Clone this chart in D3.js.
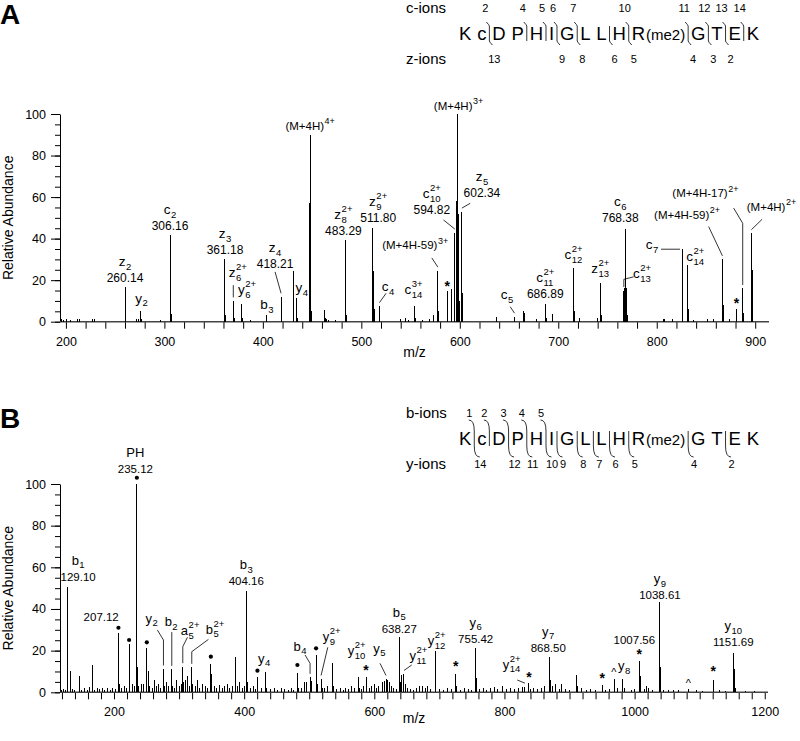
<!DOCTYPE html>
<html>
<head>
<meta charset="utf-8">
<script src="https://cdn.jsdelivr.net/npm/d3@7"></script>
<style>
  body { margin: 0; background: #fff; }
  svg text { font-family: "Liberation Sans", Arial, Helvetica, sans-serif; fill: #000; }
</style>
</head>
<body>
<svg id="chart" width="800" height="741"></svg>
<script>
// ---- peptide ----
const residues = ['K', 'c', 'D', 'P', 'H', 'I', 'G', 'L', 'L', 'H', 'R', 'G', 'T', 'E', 'K'];
const mods = { 10: '(me2)' };
const cIons = [2, 4, 5, 6, 7, 10, 11, 12, 13, 14];
const zIons = [13, 9, 8, 6, 5, 4, 3, 2];
const bIons = [1, 2, 3, 4, 5];
const yIons = [14, 12, 11, 10, 9, 8, 7, 6, 5, 4, 2];

// ---- panel A spectrum: [m/z, relative abundance] ----
const peaksA = [
  [195.6, 1.5], [198, 1], [200.6, 1.5], [205, 1], [211.8, 1.5], [214, 1.2], [226.9, 1.5], [228.6, 1.5],
  [260.1, 16.9], [261, 1], [271.8, 1.5], [273.5, 1.5], [276.2, 5.1], [277, 1.5], [296.5, 1],
  [306.2, 41.8], [306.9, 3.5], [360.9, 30.2], [361.7, 3], [370, 10], [370.8, 2], [378.2, 8.4], [379, 2], [387, 1],
  [404, 3], [418.5, 12], [431.4, 24.4], [434.4, 11.6], [435.2, 2],
  [447.3, 43], [447.8, 57], [448.3, 90], [448.8, 21], [449.4, 5],
  [462.5, 5.6], [463.3, 2], [465, 1.2], [467, 1], [473.4, 1],
  [483.5, 39.4], [484.1, 16.9], [484.8, 3],
  [511.7, 45.3], [512.4, 24.4], [513.1, 6], [518.4, 7.5],
  [540, 1.2], [545, 2], [548, 1], [554, 7.5], [554.8, 2],
  [562.5, 1], [569.2, 1.5], [573.3, 3], [577.7, 24.6], [578.5, 5],
  [587.2, 15], [592, 15.6], [595, 42.9], [596.2, 58], [597.4, 100], [598.5, 52], [599.5, 10], [602.1, 53], [603, 14],
  [637, 2.4], [655.6, 2.4], [664.7, 5], [665.6, 4], [678.3, 1.5], [687.1, 8.4], [688, 2], [694.2, 3.7],
  [715.6, 25.7], [716.4, 5], [721.4, 2], [740.3, 2], [743.3, 18.8], [744.1, 3],
  [766.6, 15], [767.5, 16], [768.4, 44.5], [769.2, 16], [770, 3],
  [806.5, 1.5], [807.6, 1.5], [816.5, 1.5], [825.7, 34.9], [826.5, 14], [831.1, 27.3], [831.9, 6], [837.5, 1],
  [851.7, 1.5], [857.8, 1.5], [866.7, 30], [867.5, 8], [874.1, 1.5], [880.6, 5.9], [887.3, 16], [888.1, 4],
  [896.1, 42.6], [896.8, 25], [897.6, 5]
];

// label anchor = [m/z, abundance] of bottom text line; lead = leader start/corner points; pk = peak it points to
const labelsA = [
  { t: 'z', sub: '2', num: '260.14', x: 260, y: 19.1 },
  { t: 'y', sub: '2', x: 276.9, y: 9.1 },
  { t: 'c', sub: '2', num: '306.16', x: 305.7, y: 44 },
  { t: 'z', sub: '3', num: '361.18', x: 361.6, y: 32.6 },
  { t: 'z', sub: '6', sup: '2+', x: 374.5, y: 21.3, pk: 370, lead: [[370, 17.6]] },
  { t: 'y', sub: '6', sup: '2+', x: 384, y: 13.4 },
  { t: 'b', sub: '3', x: 404, y: 6 },
  { t: 'z', sub: '4', num: '418.21', x: 412.4, y: 25.9, pk: 418.5, lead: [[412.4, 24]] },
  { t: 'y', sub: '4', x: 439.5, y: 14.3 },
  { t: '(M+4H)', sup: '4+', x: 448, y: 92.4 },
  { t: 'z', sub: '8', sup: '2+', num: '483.29', x: 481.8, y: 41.8 },
  { t: 'z', sub: '9', sup: '2+', num: '511.80', x: 517.1, y: 48 },
  { t: 'c', sub: '4', x: 527.2, y: 14.8, pk: 518.4, lead: [[525.2, 13.7]] },
  { t: '(M+4H-59)', sup: '3+', x: 554.7, y: 35, pk: 577.7, lead: [[571.6, 30.7]] },
  { t: 'c', sub: '14', sup: '3+', x: 553, y: 13.1 },
  { t: 'c', sub: '10', sup: '2+', num: '594.82', x: 571.6, y: 51.8, pk: 595, lead: [[583.4, 49]] },
  { t: '(M+4H)', sup: '3+', x: 598.7, y: 102 },
  { t: 'z', sub: '5', num: '602.34', x: 622.5, y: 59.8, pk: 602.1, lead: [[610.6, 57]] },
  { t: 'c', sub: '5', x: 647.9, y: 10.7, pk: 655.6, lead: [[651.2, 7.2]] },
  { t: 'c', sub: '11', sup: '2+', num: '686.89', x: 686.8, y: 11.3 },
  { t: 'c', sub: '12', sup: '2+', x: 715.6, y: 30 },
  { t: 'z', sub: '13', sup: '2+', x: 742.7, y: 23.5 },
  { t: 'c', sub: '13', sup: '2+', x: 785, y: 21, pk: 766.6, lead: [[776.5, 21.6], [766.6, 20.4]] },
  { t: 'c', sub: '6', num: '768.38', x: 763, y: 47.8 },
  { t: 'c', sub: '7', x: 795.2, y: 34.8, pk: 825.7, lead: [[804.3, 34.9]] },
  { t: 'c', sub: '14', sup: '2+', x: 839.2, y: 29.2 },
  { t: '(M+4H-59)', sup: '2+', x: 830.8, y: 49.5, pk: 866.7, lead: [[852.7, 45.8]] },
  { t: '(M+4H-17)', sup: '2+', x: 849.4, y: 60, pk: 887.3, lead: [[878.1, 54.7], [887.3, 47.4]] },
  { t: '(M+4H)', sup: '2+', x: 916.5, y: 53.5, pk: 896.1, lead: [[907, 49.3]] }
];
const starsA = [[587.2, 18.5], [880.9, 10.5]];

// ---- panel B spectrum ----
const peaksB = [
  [119, 1], [122, 1.5], [125, 1], [129.1, 50.7], [132.5, 10.4], [136, 1.5], [140, 1], [146.5, 8],
  [150, 1], [155, 2], [160, 1], [163, 2.5], [166.4, 13.3], [170, 1], [174, 2], [178, 1.5], [182, 2],
  [186, 1], [190, 2], [194, 1], [198, 2], [202, 1.5], [206.9, 28.3], [208, 4], [212, 2], [216, 3], [219, 2],
  [223.2, 23.2], [224.5, 4], [228, 4], [231, 3], [235.12, 100], [236.6, 12], [238, 3], [242, 4], [245, 4.2],
  [250.4, 21.3], [253, 10.4], [255, 3], [259, 2], [262, 6], [265, 3], [269, 4], [272, 2], [276, 11.2], [277.5, 3],
  [281, 5], [284, 3], [288.8, 11], [290, 3], [293, 2], [296, 6], [300, 3], [303, 4], [305.7, 12.3], [307, 5],
  [310, 6], [313, 8], [316, 3], [319.5, 12], [321, 4], [325, 3], [328, 6], [332, 2], [336, 4], [340, 3], [343, 2],
  [348.7, 13.6], [350, 9], [354, 3], [358, 2], [362, 3.5], [366, 2], [370, 3], [374, 4], [378, 2], [382, 3],
  [386, 17.1], [390, 3], [393, 5], [397, 2], [400, 3], [404.16, 48.8], [405.5, 5], [410, 2], [414, 3], [417, 1.5],
  [420.4, 7.2], [426, 2], [433.2, 9.6], [434.5, 2], [440, 1.5], [446, 2], [452, 1], [458, 2], [462, 1.5],
  [468, 1], [472, 2], [476, 1], [481.8, 9.3], [483, 2], [488, 2], [492, 5], [496, 5], [501.3, 7.2], [504, 5.5],
  [510.5, 18], [512, 4], [518.2, 6.4], [520, 2], [524, 2], [528, 3], [535.5, 14], [537, 3], [542, 1.5], [548, 2],
  [552, 1], [556, 2], [560, 1.5], [565, 3], [569, 2], [575.5, 7.2], [577, 2], [580, 1.5], [583, 3], [587.3, 7.5],
  [592, 2], [596, 3], [600, 4], [603, 2], [607, 3], [612, 5], [615, 5.5], [618, 6.4], [620, 6], [623, 5],
  [626, 3], [630, 2], [634, 1.5], [638.27, 26.4], [639.5, 5], [642, 8.5], [645.6, 8.8], [648, 4], [651, 2],
  [656, 1.5], [660, 1], [665, 2], [670, 3], [674, 3], [678, 2], [682, 3], [686, 1.5], [693.3, 20], [694.5, 12],
  [700, 1.5], [706, 1], [712, 2], [718, 1.5], [725, 8.8], [726.5, 3], [732, 1], [738, 2], [744, 1.5], [750, 1],
  [755.7, 21.3], [757, 7], [762, 1.5], [768, 2], [772, 1], [778, 2], [784, 2.5], [790, 1.5], [797, 3],
  [803, 1.5], [810, 2], [816, 1.5], [822, 2], [827, 2.5], [831.5, 2.7], [837.7, 4.3], [840, 1.5], [845, 2],
  [851, 1.5], [857, 2], [862, 3], [868.9, 17.1], [870, 6], [874, 3], [878, 4], [884, 1.5], [888, 4], [894, 1.5],
  [900, 1], [910.9, 8.3], [912.5, 3], [918, 2], [926, 1], [932, 1.5], [940, 1], [950.3, 3.5], [956, 1],
  [962, 1.5], [968.7, 6.4], [974, 2], [981.5, 6.4], [985, 2], [995, 1], [1000, 1.5], [1007.1, 15.2], [1009, 8],
  [1015, 1.5], [1019, 3], [1022, 2], [1028, 1], [1037.5, 5], [1038.9, 43.2], [1040.3, 12], [1045, 1], [1052, 1],
  [1060, 1], [1068, 1], [1082.4, 1.6], [1095, 1], [1105, 0.8], [1120.8, 6], [1122, 2], [1130, 1], [1140, 0.8],
  [1151.5, 18.7], [1153, 11], [1155, 2], [1170, 0.8], [1185, 0.5]
];

const labelsB = [
  { t: 'b', sub: '1', num: '129.10', x: 144.9, y: 53.6 },
  { t: 'PH', num: '235.12', x: 232.8, y: 105.5 },
  { num: '207.12', x: 180.3, y: 34.2 },
  { t: 'y', sub: '2', x: 258, y: 33.3, pk: 276, lead: [[266.7, 29.9], [276, 25.1]] },
  { t: 'b', sub: '2', x: 287.8, y: 31.6, pk: 288.8, lead: [[288.8, 28.9]] },
  { t: 'a', sub: '5', sup: '2+', x: 317, y: 27.5, pk: 305.7, lead: [[312.8, 26.4], [305.7, 21.9]] },
  { t: 'b', sub: '5', sup: '2+', x: 355.4, y: 28.2, pk: 319.5, lead: [[345.1, 25.4], [319.5, 19.5]] },
  { t: 'b', sub: '3', num: '404.16', x: 403.2, y: 51.4 },
  { t: 'y', sub: '4', x: 430.7, y: 14.1 },
  { t: 'b', sub: '4', x: 485.9, y: 20, pk: 501.3, lead: [[493.6, 17.9], [501.3, 13.9]] },
  { t: 'y', sub: '9', sup: '2+', x: 534.6, y: 24.4, pk: 518.2, lead: [[528.5, 21.6]] },
  { t: 'y', sub: '10', sup: '2+', x: 573, y: 17.9 },
  { t: 'y', sub: '5', x: 607.7, y: 18.9, pk: 618, lead: [[608.8, 13.9]] },
  { t: 'b', sub: '5', num: '638.27', x: 638.4, y: 28.7 },
  { t: 'y', sub: '11', sup: '2+', x: 667.7, y: 15.5, pk: 645.6, lead: [[657.5, 13.1]] },
  { t: 'y', sub: '12', sup: '2+', x: 695.9, y: 22.7 },
  { t: 'y', sub: '6', num: '755.42', x: 755.8, y: 23.9 },
  { t: 'y', sub: '14', sup: '2+', x: 811.1, y: 11.2, pk: 831.5, lead: [[819.7, 5.9]] },
  { t: 'y', sub: '7', num: '868.50', x: 867.3, y: 19.5 },
  { t: 'y', sub: '8', x: 984.1, y: 10.5 },
  { num: '1007.56', x: 999.6, y: 23 },
  { t: 'y', sub: '9', num: '1038.61', x: 1039, y: 44.6 },
  { t: 'y', sub: '10', num: '1151.69', x: 1151.6, y: 22.2 }
];
const dotsB = [[235.12, 103], [206.8, 31], [223.2, 25.1], [250.4, 24], [348.8, 17.1], [420.4, 10.4], [481.8, 13.1], [510.5, 21.1]];
const starsB = [[587.3, 12], [725.1, 13.9], [837.7, 8.8], [950.3, 8.3], [1007.3, 20], [1120.8, 11.5]];
const caretsB = [[968, 10.7], [1082.4, 5.6]];

const svg = d3.select('#chart');

// ion name with stacked sub/superscript, centred on cx
function drawIon(g, cx, by, base, sub, sup, fs, fsSmall, supDy) {
  const grp = g.append('g');
  let w = 0;
  if (base) {
    const t = grp.append('text').attr('font-size', fs).text(base);
    w = t.node().getComputedTextLength();
  }
  let ws = 0;
  if (sub) {
    const t = grp.append('text').attr('x', w + 0.5).attr('y', fs * 0.27).attr('font-size', fsSmall).text(sub);
    ws = t.node().getComputedTextLength();
  }
  if (sup) {
    const t = grp.append('text').attr('x', w + 0.5).attr('y', -supDy).attr('font-size', fsSmall).text(sup);
    ws = Math.max(ws, t.node().getComputedTextLength());
  }
  const total = w + (ws ? ws + 0.5 : 0);
  grp.attr('transform', `translate(${cx - total / 2},${by})`);
}

function drawPanel(p) {
  const { x, y } = p;
  const g = svg.append('g');
  const x0 = x.range()[0], x1 = x.range()[1];

  // y axis: minor then major ticks
  g.append('g')
    .attr('transform', `translate(${x0},0)`)
    .call(d3.axisLeft(y).tickValues(d3.range(0, 101, 5)).tickSize(5).tickFormat(''))
    .call(s => s.select('.domain').remove());
  g.append('g')
    .attr('transform', `translate(${x0},0)`)
    .call(d3.axisLeft(y).tickValues(d3.range(0, 101, 20)).tickSize(9).tickSizeOuter(0).tickPadding(5))
    .call(s => s.selectAll('text').attr('font-size', 12.5).style('font-family', null))
    .call(s => s.selectAll('line,path').attr('stroke', '#000'));

  // x axis: ticks every 20, labels on p.xLabelStep
  g.append('g')
    .attr('transform', `translate(0,${y(0)})`)
    .call(d3.axisBottom(x).tickValues(p.xTicks).tickSize(7).tickPadding(8)
      .tickFormat(d => (d % p.xLabelStep === 0 ? d : '')))
    .call(s => s.select('.domain').remove())
    .call(s => s.selectAll('text').attr('font-size', 12.5).style('font-family', null))
    .call(s => s.selectAll('line').attr('stroke', '#000'));
  g.append('line')
    .attr('x1', x0).attr('x2', x1).attr('y1', y(0)).attr('y2', y(0))
    .attr('stroke', '#444').attr('stroke-width', 1.6);

  // axis titles
  g.append('text')
    .attr('transform', `translate(12.5,${(y(0) + y(100)) / 2}) rotate(-90)`)
    .attr('text-anchor', 'middle').attr('font-size', 14)
    .text('Relative Abundance');
  g.append('text')
    .attr('x', (x0 + x1) / 2).attr('y', p.mzY)
    .attr('text-anchor', 'middle').attr('font-size', 14)
    .text('m/z');

  // peaks
  g.append('g').selectAll('line').data(p.peaks).join('line')
    .attr('x1', d => x(d[0])).attr('x2', d => x(d[0]))
    .attr('y1', y(0)).attr('y2', d => y(d[1]))
    .attr('stroke', '#000').attr('stroke-width', 1)
    .attr('shape-rendering', 'crispEdges');

  // leader lines
  const peakTop = m => {
    const pk = p.peaks.reduce((a, b) => (Math.abs(b[0] - m) < Math.abs(a[0] - m) ? b : a));
    return [x(pk[0]), y(pk[1])];
  };
  p.labels.filter(d => d.lead).forEach(d => {
    const pts = d.lead.map(q => [x(q[0]), y(q[1])]);
    const [px, py] = peakTop(d.pk);
    const last = pts[pts.length - 1];
    pts.push(Math.abs(last[1] - py) < 3 ? [px - 2, py] : [px, py - 3.5]);
    g.append('path')
      .attr('d', d3.line()(pts))
      .attr('fill', 'none').attr('stroke', '#000').attr('stroke-width', 0.8);
  });

  // labels
  p.labels.forEach(d => {
    const by = y(d.y);
    const isM = d.t && d.t[0] === '(';
    if (d.num) {
      g.append('text').attr('x', x(d.x)).attr('y', by)
        .attr('text-anchor', 'middle').attr('font-size', p.numFs).text(d.num);
    }
    if (d.t) {
      const ny = d.num ? by - p.nameGap : by;
      if (isM) drawIon(g, x(d.x), ny, d.t, d.sub, d.sup, 11.5, 9, 5.5);
      else drawIon(g, x(d.x), ny, d.t, d.sub, d.sup, p.ionFs, 9.5, 7);
    }
  });

  // markers
  g.selectAll('.star').data(p.stars || []).join('text')
    .attr('x', d => x(d[0])).attr('y', d => y(d[1]) + 8)
    .attr('text-anchor', 'middle').attr('font-size', 14).attr('font-weight', 'bold').text('*');
  g.selectAll('.caret').data(p.carets || []).join('text')
    .attr('x', d => x(d[0])).attr('y', d => y(d[1]) + 6)
    .attr('text-anchor', 'middle').attr('font-size', 11).text('^');
  g.selectAll('circle').data(p.dots || []).join('circle')
    .attr('cx', d => x(d[0])).attr('cy', d => y(d[1])).attr('r', 2.1).attr('fill', '#000');

  // panel letter
  svg.append('text').attr('x', 0).attr('y', p.letterY)
    .attr('font-size', 28).attr('font-weight', 'bold').text(p.letter);
}

// sequence with fragment markers
function drawSequence(L, names, topIons, botIons, hook) {
  const g = svg.append('g');
  const seqX0 = 459, seqX1 = 759;
  const tmp = g.append('g');
  const letterW = residues.map(r => tmp.append('text').attr('font-size', 18.5).text(r).node().getComputedTextLength());
  const modW = residues.map((r, i) => (mods[i] ? tmp.append('text').attr('font-size', 15).text(mods[i]).node().getComputedTextLength() + 1 : 0));
  tmp.remove();
  const widths = letterW.map((w, i) => w + modW[i]);
  const gap = (seqX1 - seqX0 - d3.sum(widths)) / (residues.length - 1);
  const lefts = [];
  widths.reduce((acc, w) => { lefts.push(acc); return acc + w + gap; }, seqX0);

  residues.forEach((r, i) => {
    g.append('text').attr('x', lefts[i]).attr('y', L).attr('font-size', 18.5).text(r);
    if (mods[i]) g.append('text').attr('x', lefts[i] + letterW[i] + 1).attr('y', L).attr('font-size', 15).text(mods[i]);
  });

  g.append('text').attr('x', 406).attr('y', L - 27).attr('font-size', 15).text(names[0]);
  g.append('text').attr('x', 406).attr('y', L + 23.5).attr('font-size', 15).text(names[1]);

  const n = residues.length;
  for (let k = 1; k < n; k++) {
    const top = topIons.includes(k), bot = botIons.includes(n - k);
    if (!top && !bot) continue;
    const xc = lefts[k - 1] + widths[k - 1] + gap / 2;
    const yT = L - 14, yB = L + 1;
    let d = '';
    if (top) d += `M${xc - hook.dx},${yT - hook.dy}Q${xc},${yT - hook.dy * hook.q} ${xc},${yT}`;
    else d += `M${xc},${yT}`;
    d += `L${xc},${yB}`;
    if (bot) d += `Q${xc},${yB + hook.dy * hook.q} ${xc + hook.dx},${yB + hook.dy}`;
    g.append('path').attr('d', d).attr('fill', 'none').attr('stroke', '#000').attr('stroke-width', 0.8);
    if (top) g.append('text').attr('x', xc - hook.lx).attr('y', L - 28.5)
      .attr('text-anchor', 'middle').attr('font-size', 11).text(k);
    if (bot) g.append('text').attr('x', xc + hook.lx + 1).attr('y', L + 22.5)
      .attr('text-anchor', 'middle').attr('font-size', 11).text(n - k);
  }
}

drawPanel({
  letter: 'A', letterY: 24,
  x: d3.scaleLinear().domain([194, 914]).range([60, 769]),
  y: d3.scaleLinear().domain([0, 100]).range([321.7, 114]),
  xTicks: d3.range(200, 901, 20), xLabelStep: 100, mzY: 357,
  peaks: peaksA, labels: labelsA, stars: starsA,
  ionFs: 13.5, numFs: 12, nameGap: 16
});

drawPanel({
  letter: 'B', letterY: 428.3,
  x: d3.scaleLinear().domain([117, 1205]).range([60, 768]),
  y: d3.scaleLinear().domain([0, 100]).range([692.3, 484]),
  xTicks: d3.range(120, 1201, 20), xLabelStep: 200, mzY: 723,
  peaks: peaksB, labels: labelsB, stars: starsB, carets: caretsB, dots: dotsB,
  ionFs: 13, numFs: 11.5, nameGap: 16
});

drawSequence(40, ['c-ions', 'z-ions'], cIons, zIons, { dx: 3, dy: 4, q: 0.2, lx: 4 });
drawSequence(445, ['b-ions', 'y-ions'], bIons, yIons, { dx: 5.5, dy: 11, q: 1, lx: 5 });
</script>
</body>
</html>
